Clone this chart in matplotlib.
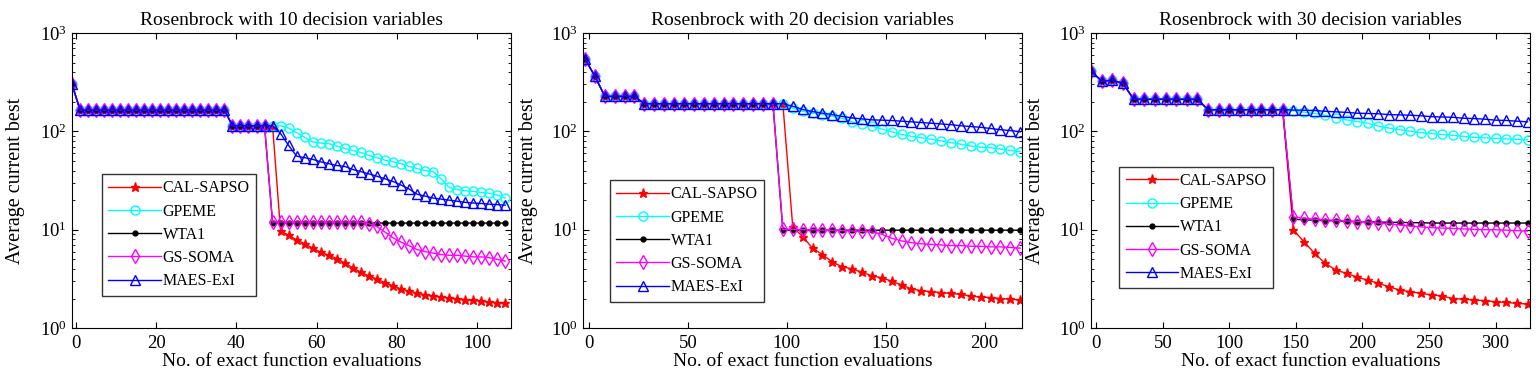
import matplotlib
matplotlib.use('Agg')
import matplotlib.pyplot as plt
import numpy as np

plt.rcParams['font.family'] = ['Liberation Serif', 'DejaVu Serif']
plt.rcParams['mathtext.fontset'] = 'custom'
plt.rcParams['mathtext.rm'] = 'Liberation Serif'
plt.rcParams['mathtext.it'] = 'Liberation Serif:italic'

LABELS = ['CAL-SAPSO', 'GPEME', 'WTA1', 'GS-SOMA', 'MAES-ExI']
TITLES = ['Rosenbrock with 10 decision variables',
          'Rosenbrock with 20 decision variables',
          'Rosenbrock with 30 decision variables']

# ---- 10 decision variables: evaluations -1, 1, 3, ..., 107 ----
x10 = np.arange(-1, 108, 2)
common10 = [300, 165, 165, 165, 165, 165, 165, 165, 165, 165, 165, 165, 165, 165, 165,
            165, 165, 165, 165, 165, 114, 114, 114, 114]
cal10 = [114, 114, 9.7, 8.8, 7.9, 7.2, 6.5, 5.9, 5.5, 5.1, 4.6, 4.1, 3.7, 3.4, 3.15, 2.9,
         2.7, 2.5, 2.38, 2.27, 2.18, 2.13, 2.08, 2.02, 1.99, 1.95, 1.92, 1.88, 1.85, 1.82, 1.8]
gpeme10 = [114, 114, 114, 108, 97, 87, 78, 76, 75, 71, 67, 64, 61, 57, 54, 51, 49, 47, 44,
           42, 40, 39, 33, 27, 25.5, 25, 24.5, 24, 23.5, 22.5, 21]
wta10 = [114, 11.7, 11.7, 11.7, 11.7, 11.7, 11.7, 11.7, 11.7, 11.7, 11.7, 11.7, 11.7, 11.7,
         11.7, 11.7, 11.7, 11.7, 11.7, 11.7, 11.7, 11.7, 11.7, 11.7, 11.7, 11.7, 11.7, 11.7,
         11.7, 11.7, 11.7]
gs10 = [114, 12, 12, 12, 12, 12, 12, 12, 12, 12, 12, 12, 12, 11.5, 10.8, 9.5, 8.3, 7.5, 6.9,
        6.3, 6.0, 5.8, 5.6, 5.5, 5.5, 5.4, 5.3, 5.3, 5.2, 5.0, 4.8]
maes10 = [114, 114, 95, 72, 56, 54, 52, 49, 47, 45, 44, 41, 39, 37, 35, 33, 31, 28.5, 26,
          23, 22, 21, 20.5, 20, 19.5, 19, 18.7, 18.5, 18.2, 18, 17.8]

# ---- 20 decision variables: evaluations -2, 3, 8, ..., 218 ----
x20 = np.arange(-2, 219, 5)
common20 = [544, 363, 227, 227, 227, 227, 191, 191, 191, 191, 191, 191, 191, 191, 191, 191,
            191, 191, 191, 191]
cal20 = [191, 10.7, 8.5, 6.5, 5.6, 4.7, 4.2, 4.0, 3.7, 3.4, 3.25, 3.0, 2.75, 2.5, 2.4, 2.35,
         2.3, 2.25, 2.2, 2.12, 2.07, 2.04, 2.0, 1.97, 1.93]
gpeme20 = [191, 172, 160, 153, 148, 142, 136, 125, 119, 113, 106, 99, 93, 89, 86, 83, 80, 77,
           74, 71, 69, 68, 66, 64, 62]
wta20 = [9.9, 9.9, 9.9, 9.9, 9.9, 9.9, 9.9, 9.9, 9.9, 9.9, 9.9, 9.9, 9.9, 9.9, 9.9, 9.9, 9.9,
         9.9, 9.9, 9.9, 9.9, 9.9, 9.9, 9.9, 9.9]
gs20 = [10.1, 10.1, 10.0, 10.0, 9.9, 9.9, 9.8, 9.7, 9.6, 9.5, 9.0, 8.2, 7.7, 7.4, 7.2, 7.1,
        7.0, 6.9, 6.9, 6.8, 6.8, 6.7, 6.7, 6.6, 6.5]
maes20 = [191, 180, 167, 159, 153, 148, 142, 137, 134, 131, 130, 129, 127, 125, 123, 121, 119,
          117, 114, 112, 110, 107, 104, 102, 99]

# ---- 30 decision variables: evaluations -4, 4, 12, ..., 324 ----
x30 = np.arange(-4, 325, 8)
common30 = [410, 325, 330, 308, 212, 212, 212, 212, 212, 212, 212, 166, 166, 166, 166, 166,
            166, 166, 166]
cal30 = [10.0, 7.55, 5.76, 4.55, 3.9, 3.6, 3.3, 3.07, 2.85, 2.64, 2.43, 2.35, 2.25, 2.18,
         2.12, 2.0, 1.97, 1.93, 1.9, 1.85, 1.83, 1.78, 1.76]
gpeme30 = [162, 157, 152, 146, 138, 131, 126, 121, 113, 108, 104, 100, 97, 95, 93, 91, 89, 87,
           86, 85, 84, 83, 82]
wta30 = [12.8, 12.6, 12.5, 12.4, 12.3, 12.2, 12.1, 12.0, 12.0, 11.9, 11.9, 11.8, 11.8, 11.7,
         11.7, 11.7, 11.7, 11.7, 11.7, 11.7, 11.7, 11.7, 11.7]
gs30 = [13.5, 13.1, 12.8, 12.6, 12.5, 12.3, 12.1, 12.0, 11.7, 11.5, 11.2, 10.9, 10.7, 10.5,
        10.4, 10.3, 10.2, 10.1, 10.0, 10.0, 9.9, 9.8, 9.7]
maes30 = [165, 164, 163, 160, 158, 156, 153, 152, 151, 148, 147, 146, 144, 141, 140, 139, 136,
          135, 133, 130, 129, 127, 125]

panels = [
    (x10, common10, [cal10, gpeme10, wta10, gs10, maes10], (-1, 108.5), [0, 20, 40, 60, 80, 100]),
    (x20, common20, [cal20, gpeme20, wta20, gs20, maes20], (-3, 219), [0, 50, 100, 150, 200]),
    (x30, common30, [cal30, gpeme30, wta30, gs30, maes30], (-4, 326), [0, 50, 100, 150, 200, 250, 300]),
]

styles = [
    dict(color='red', marker='*', markersize=6.5, markerfacecolor='red'),
    dict(color='cyan', marker='o', markersize=6.5, markerfacecolor='none'),
    dict(color='black', marker='.', markersize=7),
    dict(color='magenta', marker='d', markersize=7.5, markerfacecolor='none'),
    dict(color='blue', marker='^', markersize=7.5, markerfacecolor='none'),
]

lefts = [0.0469, 0.3796, 0.7103]
legend_anchor = [(0.068, 0.522), (0.061, 0.502), (0.064, 0.547)]
ylabel_x = [25, 538, 1045]

fig = plt.figure(figsize=(15.36, 3.75), dpi=100)

for i, (x, common, tails, xlim, xticks) in enumerate(panels):
    ax = fig.add_axes([lefts[i], 0.125, 0.2859, 0.787])
    for lab, tail, st in zip(LABELS, tails, styles):
        y = list(common) + list(tail)
        ax.plot(x, y, linewidth=1.0, markeredgewidth=1.0, label=lab, **st)
    ax.set_yscale('log')
    ax.set_ylim(1, 1000)
    ax.set_xlim(*xlim)
    ax.set_xticks(xticks)
    ax.tick_params(which='both', direction='in', top=True, right=True, labelsize=13.5)
    ax.tick_params(axis='x', pad=5)
    ax.tick_params(which='major', length=4)
    ax.tick_params(which='minor', length=2)
    ax.set_title(TITLES[i], fontsize=14, pad=6)
    ax.set_xlabel('No. of exact function evaluations', fontsize=14, labelpad=1)
    ax.set_ylabel('Average current best', fontsize=14.5)
    ax.yaxis.set_label_coords((ylabel_x[i] - lefts[i] * 1536) / (0.2859 * 1536), 0.5)
    leg = ax.legend(loc='upper left', bbox_to_anchor=legend_anchor[i], borderaxespad=0,
                    fancybox=False, edgecolor='black', fontsize=11.5, handlelength=3.3,
                    handletextpad=0.1, labelspacing=0.45, borderpad=0.4)
    leg.get_frame().set_linewidth(1.0)
    for sp in ax.spines.values():
        sp.set_linewidth(0.8)

fig.savefig('out.png', dpi=100)
